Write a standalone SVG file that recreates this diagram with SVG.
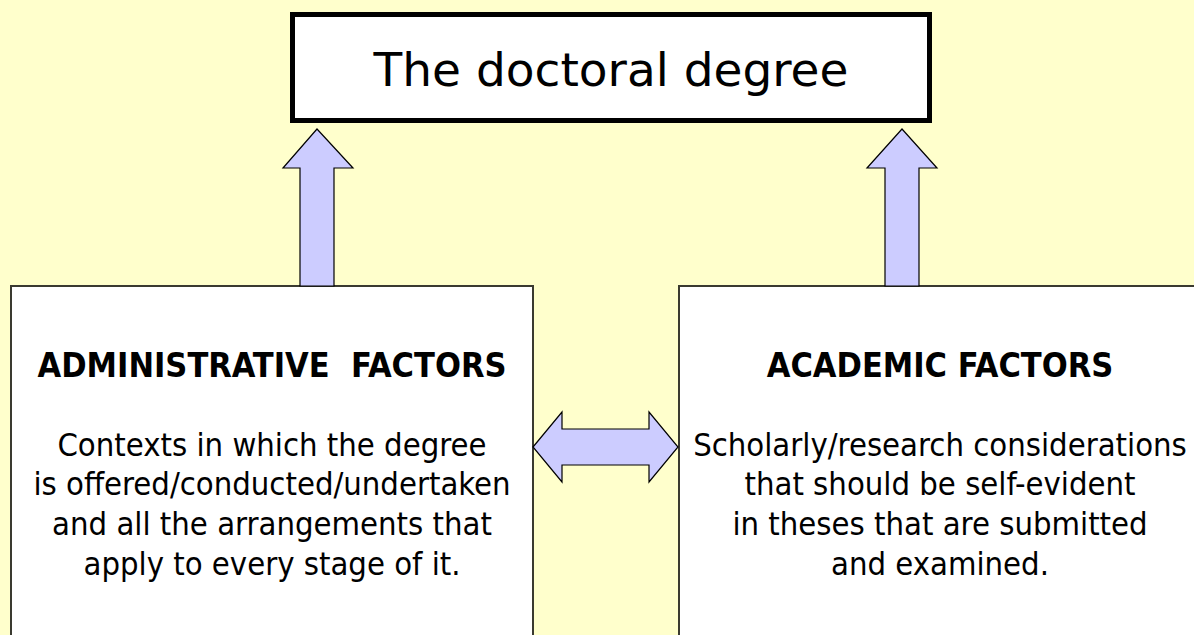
<svg xmlns="http://www.w3.org/2000/svg" width="1194" height="635" viewBox="0 0 1194 635">
<style>
.bg{fill:#FFFFCC}
.box{fill:#FFFFFF;stroke:#3a3a30;stroke-width:2}
.top{fill:#FFFFFF;stroke:#000000;stroke-width:5}
.arrow{fill:#CCCCFF;stroke:#000000;stroke-width:1.2;stroke-linejoin:miter}
.title{font-family:"DejaVu Sans",Verdana,sans-serif;font-size:47px;fill:#000;text-anchor:middle}
.head{font-family:"DejaVu Sans Condensed","DejaVu Sans",sans-serif;font-stretch:condensed;font-weight:bold;font-size:34px;fill:#000;text-anchor:middle;white-space:pre}
.body{font-family:"DejaVu Sans Condensed","DejaVu Sans",sans-serif;font-stretch:condensed;font-size:32.5px;fill:#000;text-anchor:middle}
</style>
<rect class="bg" x="0" y="0" width="1194" height="635"/>
<g id="node-doctoral">
<rect class="top" x="292.5" y="14.5" width="637" height="106"/>
<text class="title" x="611" y="86">The doctoral degree</text>
</g>
<g id="node-administrative">
<rect class="box" x="11" y="286" width="522" height="380"/>
<text class="head" x="272" y="377" xml:space="preserve">ADMINISTRATIVE  FACTORS</text>
<text class="body" x="272" y="456">Contexts in which the degree</text>
<text class="body" x="272" y="495">is offered/conducted/undertaken</text>
<text class="body" x="272" y="535">and all the arrangements that</text>
<text class="body" x="272" y="575">apply to every stage of it.</text>
</g>
<g id="node-academic">
<rect class="box" x="679" y="286" width="540" height="380"/>
<text class="head" x="940" y="377">ACADEMIC FACTORS</text>
<text class="body" x="940" y="456">Scholarly/research considerations</text>
<text class="body" x="940" y="495">that should be self-evident</text>
<text class="body" x="940" y="535">in theses that are submitted</text>
<text class="body" x="940" y="575">and examined.</text>
</g>
<g id="connectors">
<path class="arrow" d="M317,129 L353,168 L334,168 L334,286 L300,286 L300,168 L283,168 Z"/>
<path class="arrow" d="M902,129 L937,168 L919,168 L919,286 L885,286 L885,168 L867,168 Z"/>
<path class="arrow" d="M533,447 L562,412 L562,429 L649,429 L649,412 L678,447 L649,482 L649,465 L562,465 L562,482 Z"/>
</g>
</svg>
